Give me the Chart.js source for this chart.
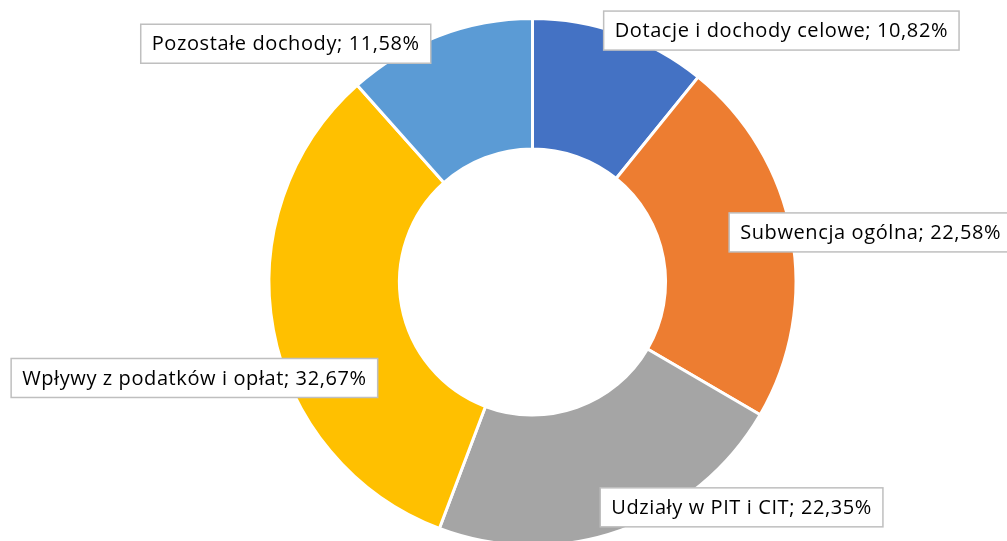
<!DOCTYPE html>
<html lang="pl">
<head>
  <meta charset="UTF-8">
  <title>Struktura dochodów</title>
  <script src="https://cdn.jsdelivr.net/npm/chart.js"></script>
  <style>
    html, body { margin: 0; padding: 0; background: #fff; overflow: hidden; }
    .container { position: relative; width: 1007px; height: 560px; }
  </style>
</head>
<body>
  <div class="container">
    <canvas id="incomeChart"></canvas>
  </div>

  <script>
    const categories = [
      'Dotacje i dochody celowe',
      'Subwencja ogólna',
      'Udziały w PIT i CIT',
      'Wpływy z podatków i opłat',
      'Pozostałe dochody'
    ];
    const shares = [10.82, 22.58, 22.35, 32.67, 11.58];
    const sliceColors = ['#4472C4', '#ED7D31', '#A5A5A5', '#FFC000', '#5B9BD5'];

    // label box centre relative to the outer edge point at the slice's mid-angle
    const labelOffsets = [[161, -3], [79, -2], [121, -23], [-79, 48], [-153, 8]];

    const labelBoxes = {
      id: 'labelBoxes',
      afterDatasetsDraw(chart) {
        const ctx = chart.ctx;
        const arcs = chart.getDatasetMeta(0).data;
        ctx.save();
        ctx.font = '20px "Open Sans", sans-serif';
        ctx.letterSpacing = '0.6px';
        ctx.textBaseline = 'middle';
        ctx.textAlign = 'left';
        arcs.forEach((arc, i) => {
          const mid = (arc.startAngle + arc.endAngle) / 2;
          const px = arc.x + Math.cos(mid) * arc.outerRadius;
          const py = arc.y + Math.sin(mid) * arc.outerRadius;
          const cx = px + labelOffsets[i][0];
          const cy = py + labelOffsets[i][1];
          const text = categories[i] + '; ' + shares[i].toFixed(2).replace('.', ',') + '%';
          const tw = ctx.measureText(text).width;
          const w = tw + 22;
          const h = 39;
          ctx.fillStyle = '#fff';
          ctx.fillRect(cx - w / 2, cy - h / 2, w, h);
          ctx.strokeStyle = '#BFBFBF';
          ctx.lineWidth = 1.5;
          ctx.strokeRect(cx - w / 2, cy - h / 2, w, h);
          ctx.fillStyle = '#000';
          ctx.fillText(text, cx - tw / 2, cy + 1);
        });
        ctx.restore();
      }
    };

    new Chart(document.getElementById('incomeChart'), {
      type: 'doughnut',
      data: {
        labels: categories,
        datasets: [{
          data: shares,
          backgroundColor: sliceColors,
          borderColor: '#fff',
          borderWidth: 3
        }]
      },
      options: {
        responsive: true,
        maintainAspectRatio: false,
        animation: false,
        cutout: '50.5%',
        layout: { padding: { top: 17, bottom: 13, left: 58, right: 0 } },
        plugins: {
          legend: { display: false },
          tooltip: { enabled: false }
        }
      },
      plugins: [labelBoxes]
    });
  </script>
</body>
</html>
